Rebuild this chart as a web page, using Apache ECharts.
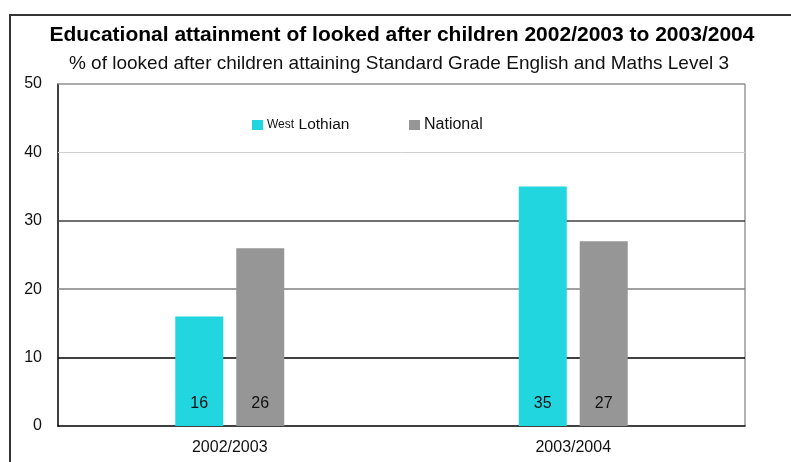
<!DOCTYPE html>
<html><head><meta charset="utf-8">
<script src="https://cdn.jsdelivr.net/npm/echarts@6/dist/echarts.min.js"></script>
<style>html,body{margin:0;padding:0;background:#fff}#c{width:791px;height:462px}</style>
</head><body><div id="c"></div>
<script>
const categories = ['2002/2003', '2003/2004'];
const westLothian = [16, 35];
const national = [26, 27];
const yTicks = [0, 10, 20, 30, 40, 50];

const chart = echarts.init(document.getElementById('c'));
const F = 'Liberation Sans, Arial, sans-serif';
const gridColors = {10: '#000', 20: '#808080', 30: '#404040', 40: '#d0d0d0', 50: '#909090'};
const markLines = yTicks.filter(v => v > 0).map(v => ({yAxis: v, lineStyle: {color: gridColors[v], width: v === 40 ? 1 : 1.5, type: 'solid'}}));
const lbl = {show: true, position: 'insideBottom', distance: 14, color: '#111', fontSize: 16, fontFamily: F};
const legendBase = {top: 117, padding: 0, itemWidth: 11, itemHeight: 10, icon: 'rect',
  textStyle: {fontFamily: F, color: '#111', fontSize: 16, padding: [0, 0, 0, -1],
    rich: {s: {fontSize: 12, fontFamily: F, color: '#111'}, b: {fontSize: 15.5, fontFamily: F, color: '#111'}}}};
chart.setOption({
  animation: false,
  title: [{
    text: 'Educational attainment of looked after children 2002/2003 to 2003/2004',
    left: 397, top: 20, textAlign: 'center',
    textStyle: {fontFamily: F, fontSize: 21, fontWeight: 'bold', color: '#000'}
  }, {
    text: '% of looked after children attaining Standard Grade English and Maths Level 3',
    left: 394, top: 49, textAlign: 'center',
    textStyle: {fontFamily: F, fontSize: 19, fontWeight: 'normal', color: '#111'}
  }],
  legend: [
    Object.assign({}, legendBase, {left: 252, data: ['West Lothian'],
      formatter: function () { return '{s|West} {b|Lothian}'; }}),
    Object.assign({}, legendBase, {left: 409, data: ['National']})
  ],
  grid: {left: 58, right: 46, top: 84, bottom: 36, containLabel: false},
  xAxis: {
    type: 'category', data: categories,
    axisLine: {lineStyle: {color: '#000', width: 1.5}},
    axisTick: {show: false},
    axisLabel: {fontFamily: F, fontSize: 16, color: '#111', margin: 14}
  },
  yAxis: {
    type: 'value', min: 0, max: 50, interval: 10,
    axisLine: {show: true, lineStyle: {color: '#000', width: 1.5}},
    axisTick: {show: false},
    splitLine: {show: false},
    axisLabel: {fontFamily: F, fontSize: 16, color: '#111', margin: 16}
  },
  graphic: [
    {type: 'rect', shape: {x: 10, y: 15, width: 900, height: 600}, style: {fill: 'none', stroke: '#333', lineWidth: 2}, z: -1},
    {type: 'line', shape: {x1: 745, y1: 84, x2: 745, y2: 426}, style: {stroke: '#999', lineWidth: 1.5}}
  ],
  series: [{
    name: 'West Lothian', type: 'bar', data: westLothian, barWidth: 48, barGap: '27%',
    itemStyle: {color: '#22d6e0'}, label: lbl,
    markLine: {silent: true, symbol: 'none', label: {show: false}, data: markLines, z: 1}
  }, {
    name: 'National', type: 'bar', data: national, barWidth: 48,
    itemStyle: {color: '#969696'}, label: lbl, z: 3
  }]
});
</script></body></html>
